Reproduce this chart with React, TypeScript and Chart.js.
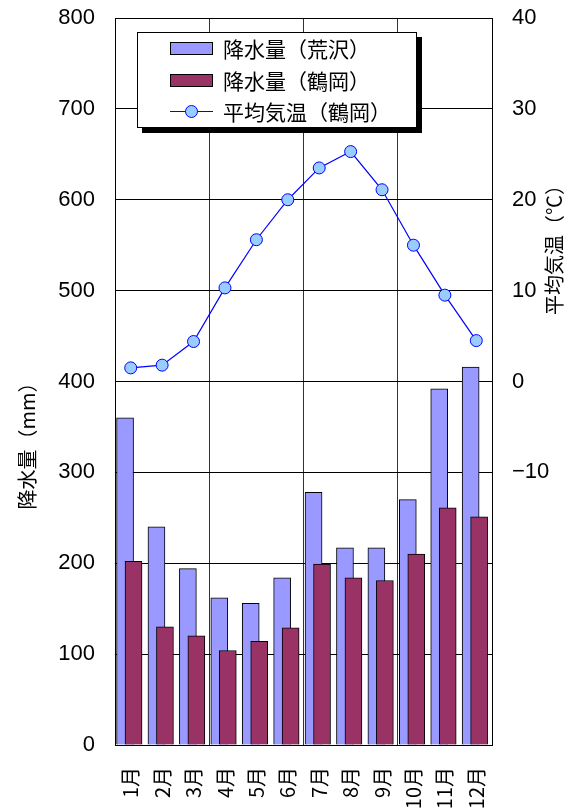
import React, { useEffect, useRef } from "react";
import { Chart, registerables } from "chart.js";

Chart.register(...registerables);

// ---- data ----
const months = ["1月", "2月", "3月", "4月", "5月", "6月", "7月", "8月", "9月", "10月", "11月", "12月"];
const rainArasawa = [360, 240, 194, 162, 156, 184, 278, 217, 217, 270, 392, 416];
const rainTsuruoka = [202, 130, 120, 104, 114, 129, 199, 184, 181, 210, 261, 251];
const tempTsuruoka = [1.5, 1.8, 4.4, 10.3, 15.6, 20.0, 23.5, 25.3, 21.1, 15.0, 9.5, 4.5];

const seriesLabels = ["降水量（荒沢）", "降水量（鶴岡）", "平均気温（鶴岡）"];
const leftTitle = "降水量（mm）";
const rightTitle = "平均気温（℃）";

// bar placement within a category (in category units)
const SHIFT_A = -0.18;
const SHIFT_B = 0.09;

const JP = '"Noto Sans CJK JP", "Noto Sans", sans-serif';
const NUM = '"Liberation Sans", Arial, sans-serif';

const decorPlugin = {
  id: "decor",
  afterDraw(chart: any) {
    const ctx = chart.ctx as CanvasRenderingContext2D;
    const ca = chart.chartArea;
    ctx.save();
    // axis titles
    ctx.fillStyle = "#000";
    ctx.font = `20px ${JP}`;
    ctx.textAlign = "center";
    ctx.textBaseline = "middle";
    ctx.save();
    ctx.translate(27, 441);
    ctx.rotate(-Math.PI / 2);
    ctx.fillText(leftTitle, 0, 0);
    ctx.restore();
    ctx.save();
    ctx.translate(554, 245);
    ctx.rotate(-Math.PI / 2);
    ctx.fillText(rightTitle, 0, 0);
    ctx.restore();

    // legend box
    const x = ca.left + 22;
    const y = ca.top + 14;
    const w = 280;
    const h = 96;
    ctx.fillStyle = "#000";
    ctx.fillRect(x + 5, y + 5, w, h);
    ctx.fillStyle = "#fff";
    ctx.fillRect(x, y, w, h);
    ctx.strokeStyle = "#000";
    ctx.lineWidth = 1;
    ctx.strokeRect(x + 0.5, y + 0.5, w - 1, h - 1);

    const ds = chart.data.datasets;
    const rowY = [y + 16, y + 48, y + 79];
    ds.forEach((d: any, i: number) => {
      const cy = rowY[i];
      const sx = x + 33;
      const sw = 43;
      if (d.type === "line") {
        ctx.strokeStyle = d.borderColor;
        ctx.lineWidth = 1.2;
        ctx.beginPath();
        ctx.moveTo(sx, cy + 0.5);
        ctx.lineTo(sx + sw, cy + 0.5);
        ctx.stroke();
        ctx.beginPath();
        ctx.arc(sx + sw / 2, cy + 0.5, 6, 0, Math.PI * 2);
        ctx.fillStyle = d.pointBackgroundColor;
        ctx.fill();
        ctx.strokeStyle = d.pointBorderColor;
        ctx.lineWidth = 1;
        ctx.stroke();
      } else {
        ctx.fillStyle = d.backgroundColor;
        ctx.fillRect(sx, cy - 6, sw, 13);
        ctx.strokeStyle = "#000";
        ctx.lineWidth = 1;
        ctx.strokeRect(sx + 0.5, cy - 6 + 0.5, sw - 1, 12);
      }
      ctx.fillStyle = "#000";
      ctx.font = `21px ${JP}`;
      ctx.textAlign = "left";
      ctx.textBaseline = "middle";
      ctx.fillText(d.label, x + 86, cy + 1);
    });
    ctx.restore();
  },
};

export default function App() {
  const canvasRef = useRef<HTMLCanvasElement | null>(null);

  useEffect(() => {
    if (!canvasRef.current) return;
    const chart = new Chart(canvasRef.current, {
      type: "bar",
      data: {
        labels: months,
        datasets: [
          {
            type: "bar",
            label: seriesLabels[0],
            data: rainArasawa.map((v, i) => ({ x: i + SHIFT_A, y: v })),
            backgroundColor: "#9999FF",
            borderColor: "#000",
            borderWidth: 1,
            barThickness: 17,
            grouped: false,
            xAxisID: "xb",
            yAxisID: "y",
            order: 2,
          },
          {
            type: "bar",
            label: seriesLabels[1],
            data: rainTsuruoka.map((v, i) => ({ x: i + SHIFT_B, y: v })),
            backgroundColor: "#993366",
            borderColor: "#000",
            borderWidth: 1,
            barThickness: 17,
            grouped: false,
            xAxisID: "xb",
            yAxisID: "y",
            order: 1,
          },
          {
            type: "line",
            label: seriesLabels[2],
            data: tempTsuruoka,
            borderColor: "#0000FF",
            borderWidth: 1.2,
            pointRadius: 6,
            pointBackgroundColor: "#99CCFF",
            pointBorderColor: "#0000FF",
            pointBorderWidth: 1,
            tension: 0,
            xAxisID: "x",
            yAxisID: "y2",
            order: 0,
          } as any,
        ],
      },
      options: {
        animation: false,
        responsive: true,
        maintainAspectRatio: false,
        layout: { padding: { top: 18, left: 0, right: 0, bottom: 0 } },
        plugins: {
          legend: { display: false },
          tooltip: { enabled: false },
        },
        scales: {
          x: {
            type: "category",
            position: "bottom",
            offset: true,
            grid: {
              offset: true,
              drawTicks: false,
              color: (c: any) => (c.index === 3 || c.index === 6 || c.index === 9 ? "#333" : "rgba(0,0,0,0)"),
              lineWidth: 1,
            },
            border: { display: true, color: "#000", width: 1 },
            ticks: {
              color: "#000",
              font: { family: JP, size: 20 },
              minRotation: 90,
              maxRotation: 90,
              autoSkip: false,
              padding: 22,
            },
            afterFit: (s: any) => {
              s.height = 67;
              s.paddingLeft = 0;
              s.paddingRight = 0;
            },
          },
          xb: {
            type: "linear",
            axis: "x",
            position: "bottom",
            display: false,
            min: -0.5,
            max: 11.5,
            offset: false,
          } as any,
          y: {
            type: "linear",
            position: "left",
            min: 0,
            max: 800,
            ticks: {
              stepSize: 100,
              color: "#000",
              font: { family: NUM, size: 22 },
              padding: 20,
            },
            grid: { color: "#000", lineWidth: 1, drawTicks: false },
            border: { display: true, color: "#000", width: 1 },
            afterFit: (s: any) => {
              s.width = 115;
              s.paddingTop = 0;
              s.paddingBottom = 0;
            },
          },
          y2: {
            type: "linear",
            position: "right",
            min: -40,
            max: 40,
            ticks: {
              stepSize: 10,
              color: "#000",
              font: { family: NUM, size: 22 },
              padding: 20,
              callback: (v: any) => {
                const n = Number(v);
                if (n < -10) return "";
                return n < 0 ? "\u2212" + Math.abs(n) : String(n);
              },
            },
            grid: { display: false, drawTicks: false },
            border: { display: true, color: "#000", width: 1 },
            afterFit: (s: any) => {
              s.width = 87;
              s.paddingTop = 0;
              s.paddingBottom = 0;
            },
          },
        },
      },
      plugins: [decorPlugin],
    });
    return () => chart.destroy();
  }, []);

  return (
    <div style={{ position: "fixed", left: 0, top: 0, width: 579, height: 812, background: "#fff" }}>
      <canvas ref={canvasRef} />
    </div>
  );
}
